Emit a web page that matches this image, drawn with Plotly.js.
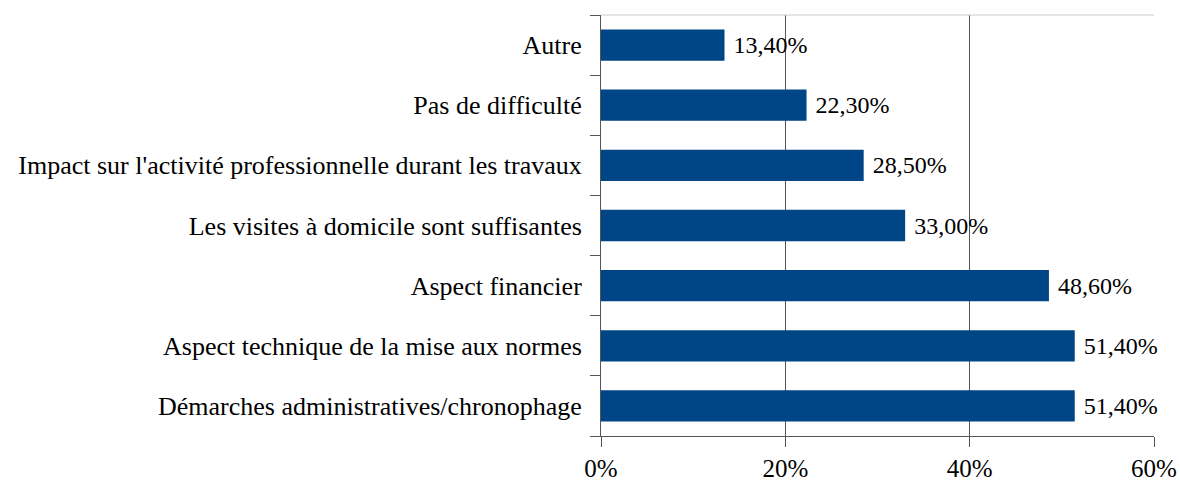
<!DOCTYPE html>
<html>
<head>
<meta charset="utf-8">
<script src="https://cdn.plot.ly/plotly-3.0.1.min.js"></script>
<style>html,body{margin:0;padding:0;background:#fff;}</style>
</head>
<body>
<div id="chart" style="width:1180px;height:481px;"></div>
<script>
const categories = [
  "Démarches administratives/chronophage",
  "Aspect technique de la mise aux normes",
  "Aspect financier",
  "Les visites à domicile sont suffisantes",
  "Impact sur l'activité professionnelle durant les travaux",
  "Pas de difficulté",
  "Autre"
];
const values = [51.4, 51.4, 48.6, 33.0, 28.5, 22.3, 13.4];
const xTickVals = [0, 20, 40, 60];
const xTickText = ["0%", "20%", "40%", "60%"];

const labels = values.map(v => "\u00a0" + v.toFixed(2).replace(".", ",") + "%");

const font = "Liberation Serif, Times New Roman, serif";

Plotly.newPlot("chart", [{
  type: "bar",
  orientation: "h",
  y: categories,
  x: values,
  marker: {color: "#004586"},
  text: labels,
  textposition: "outside",
  textfont: {family: font, size: 24, color: "#000"},
  cliponaxis: false,
  hoverinfo: "none"
}], {
  width: 1180,
  height: 481,
  margin: {l: 601, r: 26, t: 15, b: 45},
  paper_bgcolor: "#fff",
  plot_bgcolor: "#fff",
  bargap: 0.48,
  showlegend: false,
  font: {family: font, size: 25, color: "#000"},
  xaxis: {
    range: [0, 60],
    tickvals: xTickVals,
    ticktext: xTickText,
    showgrid: true,
    gridcolor: "#555",
    gridwidth: 1,
    zeroline: false,
    showline: true,
    linecolor: "#555",
    ticks: "outside",
    ticklen: 10,
    tickcolor: "#555",
    tickfont: {family: font, size: 25, color: "#000"},
    fixedrange: true
  },
  yaxis: {
    type: "category",
    tickson: "boundaries",
    showgrid: false,
    zeroline: false,
    showline: true,
    linecolor: "#555",
    ticks: "outside",
    ticklen: 10,
    tickcolor: "#555",
    ticklabelstandoff: 13,
    tickfont: {family: font, size: 26, color: "#000"},
    fixedrange: true
  },
  shapes: [{
    type: "line", xref: "paper", yref: "paper",
    x0: 0, x1: 1, y0: 1, y1: 1,
    line: {color: "#cccccc", width: 1}
  }]
}, {displayModeBar: false, staticPlot: true});
</script>
</body>
</html>
